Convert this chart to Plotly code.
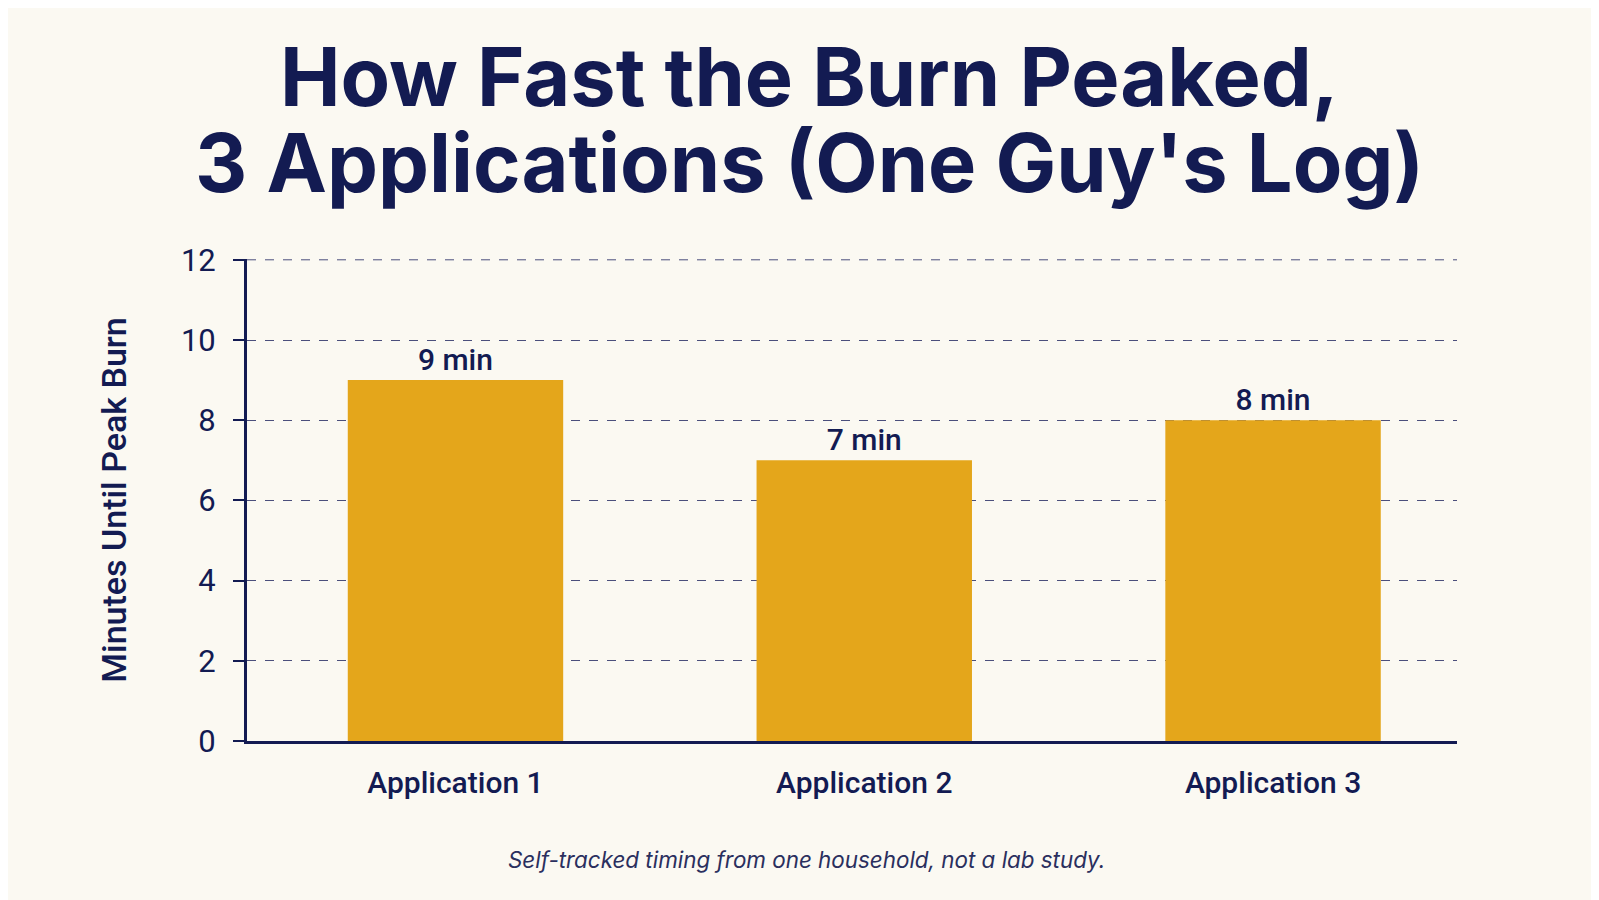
import plotly.graph_objects as go

# data
applications = ["Application 1", "Application 2", "Application 3"]
minutes_to_peak = [9, 7, 8]
bar_labels = ["9 min", "7 min", "8 min"]
y_ticks = [0, 2, 4, 6, 8, 10, 12]
y_max = 12

navy = "#131B52"
bg = "#FBF9F2"
gold = "#E4A61B"
grid = "#4B4F7C"

fig = go.Figure()
fig.add_trace(go.Bar(
    x=applications,
    y=minutes_to_peak,
    text=bar_labels,
    textposition="outside",
    textfont=dict(family="Roboto", size=30, color=navy, weight=500),
    cliponaxis=False,
    marker=dict(color=gold, line=dict(width=0)),
    width=0.527,
    hoverinfo="skip",
))

fig.update_layout(
    width=1599,
    height=900,
    paper_bgcolor=bg,
    plot_bgcolor=bg,
    showlegend=False,
    margin=dict(l=239, r=150, t=251, b=167, pad=0),
)

# two-line title as annotations so both lines sit where the reference has them
fig.add_annotation(
    text="How Fast the Burn Peaked,",
    xref="paper", yref="paper", x=0.465, y=1.378,
    xanchor="center", yanchor="middle", showarrow=False,
    font=dict(family="Inter", size=81, color=navy, weight=700),
)
fig.add_annotation(
    text="3 Applications (One Guy's Log)",
    xref="paper", yref="paper", x=0.465, y=1.2,
    xanchor="center", yanchor="middle", showarrow=False,
    font=dict(family="Inter", size=81, color=navy, weight=700),
)

fig.update_xaxes(
    range=[-0.51, 2.45],
    showgrid=False,
    showline=True, linecolor=navy, linewidth=3,
    ticks="", ticklabelstandoff=13,
    tickfont=dict(family="Roboto", size=30, color=navy, weight=500),
    zeroline=False,
)
fig.update_yaxes(
    range=[0, 12.02],
    tickvals=y_ticks,
    showgrid=True, gridcolor=grid, gridwidth=1, griddash="dash",
    showline=True, linecolor=navy, linewidth=3,
    ticks="outside", ticklen=11, tickwidth=2, tickcolor=navy,
    ticklabelstandoff=11,
    tickfont=dict(family="Roboto", size=31, color=navy),
    zeroline=False,
    title=dict(text="Minutes Until Peak Burn", standoff=45,
               font=dict(family="Roboto", size=34, color=navy, weight=500)),
)

# top gridline at the range edge (plotly drops it at the boundary)
fig.add_shape(
    type="line", xref="paper", yref="y", x0=0, x1=1, y0=y_max, y1=y_max,
    line=dict(color=grid, width=1, dash="dash"), layer="below",
)

fig.add_annotation(
    text="Self-tracked timing from one household, not a lab study.",
    xref="paper", yref="paper", x=0.462, y=-0.246,
    xanchor="center", yanchor="middle", showarrow=False,
    font=dict(family="Inter", size=22.4, color="#2A2F5E", style="italic"),
)

fig.write_html("out.html")
